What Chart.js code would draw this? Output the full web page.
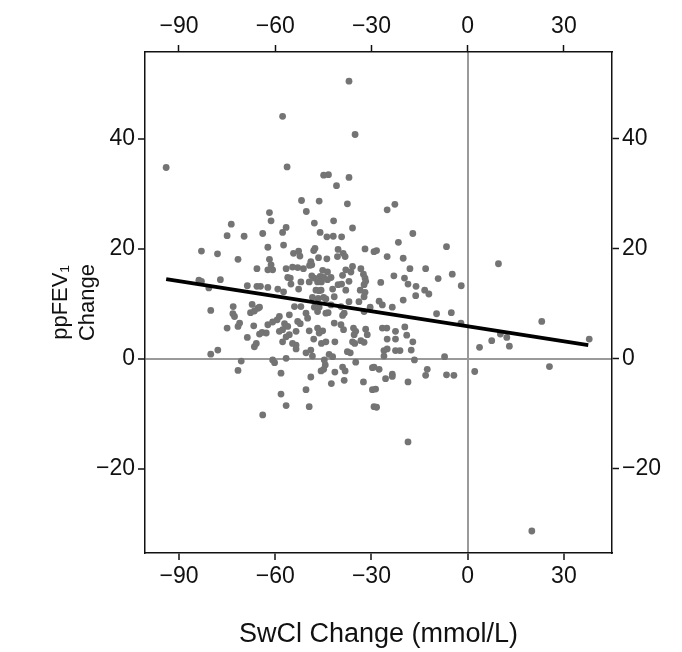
<!DOCTYPE html>
<html><head><meta charset="utf-8">
<script src="https://cdn.jsdelivr.net/npm/chart.js@4.4.1/dist/chart.umd.min.js"></script>
<style>html,body{margin:0;padding:0;background:#fff}canvas{display:block}</style>
</head><body>
<canvas id="c" width="682" height="652"></canvas>
<script>
const xTicks = [-90, -60, -30, 0, 30];
const yTicks = [-20, 0, 20, 40];
const xTitle = 'SwCl Change (mmol/L)';
const yTitle = ['ppFEV\u2081', 'Change'];
const swclChange = [
-94,-37,-57.7,-35.1,-56.3,-44.9,-43.4,-37,-40.9,
-73.7,-75,-69.7,-63.9,-83,-78,-71.6,-65.7,-83.8,-83,-77.1,-80.7,-68.7,-65.7,-64.6,-80.1,-73.1,-67.2,-65.4,-64.9,
-73.2,-72.7,-67.7,-66.5,-75,-71.6,-71.1,-66.7,-64.9,-64.1,-68.7,-66.5,-65.9,-80.1,-77.9,-70.6,-71.6,-63.9,
-51.8,-46.3,-37.5,-61.8,-50.3,-61.3,-47.8,-41.8,-56.6,-57.7,-35.9,-46,-43.9,-41.9,-39.3,-62.3,-57.4,-47.6,-48,-40.4,-38.8,-32,-29.2,
-54.3,-52.7,-52.3,-46.5,-43.9,-40.6,-38.2,-61.8,-48.9,-48.6,-49.3,-61.3,-60.8,-62.3,-56.6,-54.6,-53,-51.2,-45.2,-43.7,-38,-35.9,-33.3,
-56.1,-55.3,-48.6,-47.8,-46,-44.9,-42.6,-39,-36.4,-32.5,-32,-52,-49.4,-46.8,-45.6,-43.7,-40.4,-39.3,-37,-32.3,-31.8,
-62.3,-59.2,-57.4,-55.1,-52.7,-47.3,-46.3,-45.7,-42.1,-38,-33.5,-32,-48.4,-46.6,-44.9,-44.2,-41.6,-37,-33.9,-32.3,
-54,-52,-47.8,-46.3,-42.6,-39.5,-30.4,
-58.7,-55.6,-62.3,-60.8,-59.4,-57.1,-56.1,-53,-52.2,-50.4,-49.9,-46.8,-44.2,-43.5,-38.5,-39,-32.3,
-62.8,-58.7,-57.7,-55.6,-56.6,-53.5,-49.4,-46.8,-46.3,-45.2,-41.6,-39.5,-38.7,-35.6,-34.9,-35.4,-31.8,-31.3,
-57.7,-54.6,-53.5,-48,-45.6,-44.2,-41.4,-35.9,-35.2,-33.3,-32.3,-53.5,-50.4,-48.9,-48.4,-43.2,-42.1,-37.5,-36.6,
-60.8,-60.2,-56.6,-44.7,-44.4,-34.9,-29.7,-45.7,-44.9,-41.4,-39,-38.2,-58.2,-48.9,-42.5,-38.5,-32.5,-29.7,-50.4,-58.2,-56.6,-49.4,-29.2,
-22.7,-25.1,-17.1,-21.6,-28.4,-25.1,-20.1,-6.6,-18,-13.1,-23,-19.7,-18.6,-27.1,-16.1,-9.2,-4.8,-2,-13.4,-12.1,-16.2,-20.1,-27.6,-26.6,-23.5,
-9.7,-5.1,-2.1,-26.6,-25.2,-22.5,-19.6,-19,-25.1,-22.5,-17.1,-26.1,-25.1,-22.5,-21.1,-17.6,-26.1,-16.6,-7.2,3.7,
-29.2,-27.6,-23.5,-23.5,-25.6,-12.6,-13.1,-6.6,-4.3,2.2,-18.6,-28.7,-28.4,-18.6,
9.6,23.1,7.5,10.2,12.2,13,37.9,25.5,20
];
const fevChange = [
34.8,50.5,44.1,40.8,34.9,33.4,33.5,33,31.5,
24.5,22.4,22.3,22.8,19.6,19.1,18.1,16.4,14.3,14.1,14.4,12.9,13.3,13.2,13.2,8.8,9.5,9.9,9.2,9.4,
8.2,7.7,8.4,8.7,5.6,5.9,6.5,6.0,4.5,4.8,3.9,2.2,2.8,0.85,1.6,-0.4,-2.1,-10.2,
28.8,28.7,28.2,26.6,26.8,25.1,24.7,25.1,23.9,23.0,23.8,23.0,22.2,22.3,22.2,20.3,20.7,20.1,19.7,19.9,19.2,20,19.5,
19.2,19.6,18.7,18.4,18.2,18.6,18.6,18.1,17.7,17.1,17.0,17.1,16.2,16.2,16.4,16.7,16.6,16.4,16.1,15.8,16.2,16.8,16.4,
14.8,14.7,15.1,14.7,15,14.8,14.8,15.2,15.8,15.4,14.7,14,14,14,14,14.4,13.5,13.6,14.1,13.5,14.1,
13,12.7,12.2,13.6,12.7,12.5,12.4,12.5,12.7,12.5,12.5,12.1,11.2,11,11.2,10.9,11.3,10.4,10.4,11.3,
9.5,9.5,9.4,9.4,9.8,9.5,9.4,
7.7,8,6.2,6.7,7.1,6.4,5.9,6.8,6.4,8.3,7.4,8.6,8.3,8.4,8.3,7.9,8.6,
4.7,5,5.3,4.4,4.0,5,5.1,5.6,4.7,5.1,6.5,6.2,5.3,5.6,5,4.4,5.4,4.4,
3.1,2.8,2.5,3.6,2.8,3.1,3.1,3.1,2.8,3.3,3.0,1.8,1.1,1.6,0.5,0.8,0.4,1.3,1.1,
-0.2,-0.7,0.1,-0.2,-1.1,-0.6,-1.6,-2.2,-1.9,-2.4,-1.5,-2.2,-2.6,-3.3,-4.5,-3.9,-4.2,-5.6,-5.6,-6.4,-8.5,-8.7,-8.7,
28.1,27.1,22.8,21.2,19.7,18.6,18.3,20.4,16.4,16.4,15.1,14.7,13.6,13.9,13.2,14.6,15.4,13.3,12.5,11.8,11.5,10.7,10.5,9.8,9.4,
8.2,8.4,6.5,5.6,5.6,5,5.8,4.3,3.6,3.6,3.1,1.5,1.8,1.5,1.5,1.6,0.5,-0.2,0.4,2.1,
-1.5,-1.9,-2.8,-3.2,-3.6,-1.9,-3,-2.9,-3,-2.3,-4.2,-5.5,-8.8,-15.1,
17.3,6.8,3.3,4.5,3.9,2.3,3.6,-1.4,-31.3
];
const fitSwcl = [-94, 37.6];
const fitFev = [14.5, 2.5];

const fmt = v => (v < 0 ? '\u2212' + Math.abs(v) : String(v));
const FONT = 'Liberation Sans, Arial, Helvetica, sans-serif';
const tickFont = {family: FONT, size: 23};
const black = '#111';

const zeroGrid = ctx => (ctx.tick && ctx.tick.value === 0 ? '#9a9a9a' : 'rgba(0,0,0,0)');

function axisCommon(pos, ticks, fit) {
  return {
    type: 'linear', position: pos,
    afterBuildTicks: s => { s.ticks = ticks.map(v => ({value: v})); },
    afterFit: fit,
    border: {display: true, color: black, width: 1.5},
    ticks: {font: tickFont, color: black, callback: v => fmt(v), padding: 3, maxRotation: 0, autoSkip: false},
  };
}

const scatterPts = swclChange.map((x, i) => ({x: x, y: fevChange[i]}));
const fitPts = fitSwcl.map((x, i) => ({x: x, y: fitFev[i]}));

new Chart(document.getElementById('c'), {
  type: 'scatter',
  data: {datasets: [
    {type: 'line', data: fitPts, borderColor: '#000', borderWidth: 4, pointRadius: 0, fill: false, order: 0, xAxisID: 'x', yAxisID: 'y'},
    {data: scatterPts, backgroundColor: '#747474', borderWidth: 0, pointRadius: 3.4, order: 1, xAxisID: 'x', yAxisID: 'y'}
  ]},
  options: {
    responsive: false, animation: false, devicePixelRatio: 1,
    layout: {padding: 0},
    plugins: {legend: {display: false}, tooltip: {enabled: false}},
    scales: {
      x: Object.assign(axisCommon('bottom', xTicks, s => { s.height = 99; }), {
        min: -100.6, max: 45,
        grid: {drawOnChartArea: true, color: zeroGrid, lineWidth: 2, tickColor: black, tickLength: 7, tickWidth: 1.5},
        title: {display: true, text: xTitle, font: {family: FONT, size: 27}, color: black, padding: {top: 0, bottom: 1}}
      }),
      x2: Object.assign(axisCommon('top', xTicks, s => { s.height = 52; }), {
        min: -100.6, max: 45,
        grid: {drawOnChartArea: false, tickColor: black, tickLength: 7, tickWidth: 1.5},
        ticks: {font: tickFont, color: black, callback: v => fmt(v), padding: 5, maxRotation: 0, autoSkip: false}
      }),
      y: Object.assign(axisCommon('left', yTicks, s => { s.width = 145; }), {
        min: -35.3, max: 55.8,
        grid: {drawOnChartArea: true, color: zeroGrid, lineWidth: 2, tickColor: black, tickLength: 7, tickWidth: 1.5},
        title: {display: true, text: yTitle, font: {family: FONT, size: 22}, color: black, padding: {top: 48, bottom: 0}}
      }),
      y2: Object.assign(axisCommon('right', yTicks, s => { s.width = 70; }), {
        min: -35.3, max: 55.8,
        grid: {drawOnChartArea: false, tickColor: black, tickLength: 7, tickWidth: 1.5}
      })
    }
  }
});
</script>
</body></html>
